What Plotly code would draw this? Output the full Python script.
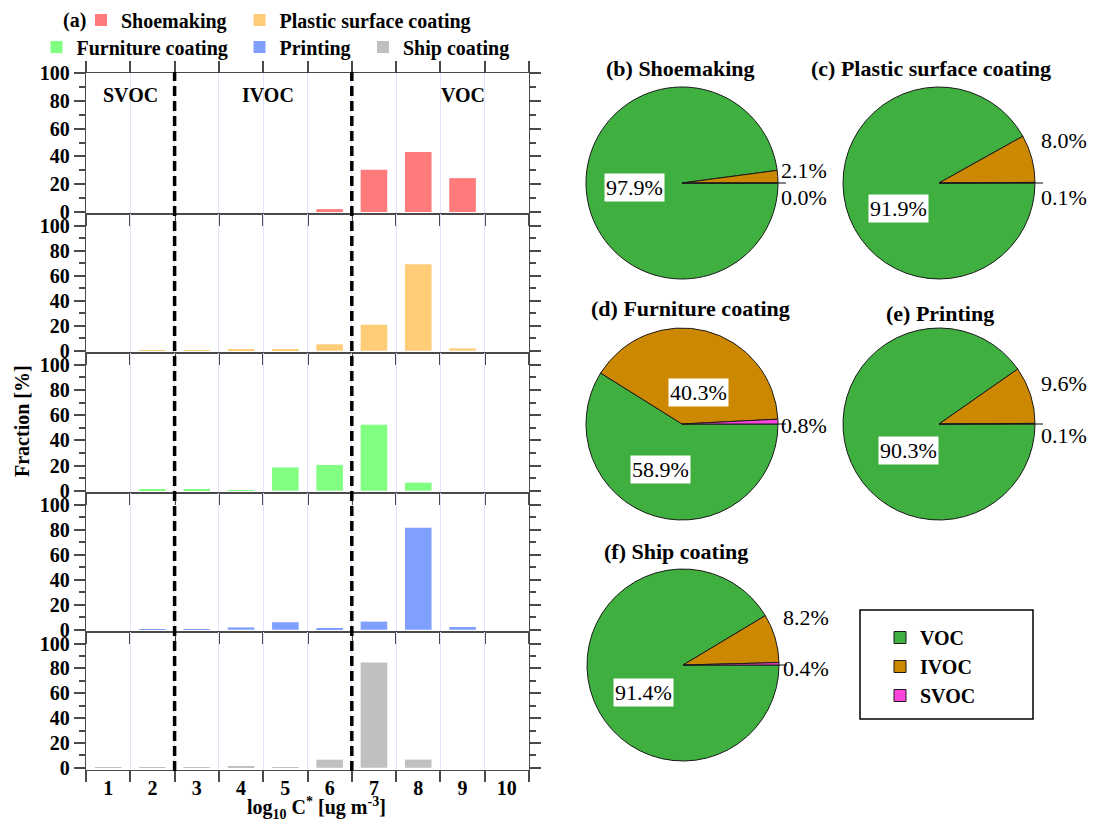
import plotly.graph_objects as go

W, H = 1104, 832
FONT = "Liberation Serif"

# ---- data -------------------------------------------------------------
log_cstar = [1, 2, 3, 4, 5, 6, 7, 8, 9, 10]
x_labels = ["1", "2", "3", "4", "5", "6", "7", "8", "9", "10"]

shoemaking = [0, 0, 0, 0, 0, 2.1, 30.4, 43.1, 24.4, 0]
plastic = [0, 0.1, 0.2, 1.3, 1.3, 5.2, 20.8, 69.2, 1.9, 0]
furniture = [0, 0.8, 0.8, 0.5, 18.5, 20.5, 52.5, 6.4, 0, 0]
printing = [0, 0.1, 0.4, 1.9, 6.0, 1.3, 6.5, 81.6, 2.2, 0]
ship = [0.2, 0.2, 0.2, 1.2, 0.3, 6.5, 84.8, 6.6, 0, 0]

sources = ["Shoemaking", "Plastic surface coating", "Furniture coating",
           "Printing", "Ship coating"]
pie_tags = ["(b)", "(c)", "(d)", "(e)", "(f)"]
classes = ["VOC", "IVOC", "SVOC"]
voc_share = [97.9, 91.9, 58.9, 90.3, 91.4]
ivoc_share = [2.1, 8.0, 40.3, 9.6, 8.2]
svoc_share = [0.0, 0.1, 0.8, 0.1, 0.4]

bar_colors = ["#ff7b7b", "#ffcc78", "#80ff80", "#80a0ff", "#c0c0c0"]
class_colors = ["#3fb03f", "#cc8800", "#ff44dd"]


def px(x):
    return x / W


def py(y):
    return 1 - y / H


def note(x, y, text, size=20, bold=True, **kw):
    """Place a text at pixel position (x, y), centred on that point."""
    fig.add_annotation(
        x=px(x), y=py(y), xref="paper", yref="paper", text=text,
        showarrow=False, xanchor=kw.pop("xanchor", "center"),
        yanchor=kw.pop("yanchor", "middle"),
        font=dict(family=FONT, size=size, color="black",
                  weight="bold" if bold else "normal"), **kw)


fig = go.Figure()

# ---- (a) stacked bar panels --------------------------------------------
panel_px = [(73, 214), (214, 353), (353, 493), (493, 632), (632, 770)]
x_left, x_right = 86, 529
series = [shoemaking, plastic, furniture, printing, ship]
# legend slot per source: (legend id, symbol centre in px)
legend_slots = [("legend", 101, 20), ("legend2", 259.5, 20),
                ("legend3", 56.5, 47), ("legend4", 259.5, 47),
                ("legend5", 383, 47)]

axis_color = "#4a4a4a"
tick_font = dict(family=FONT, size=20, color="black", weight="bold")
for i, (vals, name, col) in enumerate(zip(series, sources, bar_colors)):
    n = "" if i == 0 else str(i + 1)
    lg, lx, ly = legend_slots[i]
    fig.add_trace(go.Bar(
        x=log_cstar, y=vals, name=name, width=0.6,
        marker=dict(color=col, line=dict(width=0)),
        xaxis="x" + n, yaxis="y" + n, legend=lg, hoverinfo="y",
    ))
    top, bot = panel_px[i]
    last = i == len(series) - 1
    fig.update_layout(**{
        "xaxis" + n: dict(
            domain=[px(x_left), px(x_right)], anchor="y" + n,
            range=[0.5, 10.5], tickmode="array", tickvals=log_cstar,
            ticktext=x_labels, ticks="", showticklabels=last,
            tickfont=tick_font, showgrid=False, zeroline=False,
            showline=True, linecolor=axis_color, linewidth=1.3,
            mirror="ticks" if i == 0 else True,
            minor=dict(tickmode="array",
                       tickvals=[v - 0.5 for v in log_cstar] + [10.5],
                       ticks="outside", ticklen=11, tickwidth=1.5,
                       tickcolor=axis_color, showgrid=True,
                       gridcolor="#e2e2f8", gridwidth=1),
        ),
        "yaxis" + n: dict(
            domain=[py(bot), py(top)], anchor="x" + n,
            range=[-1.4, 100] if i == 0 else [-1.8, 109.4],
            tickmode="array", tickvals=[0, 20, 40, 60, 80, 100],
            ticks="outside", ticklen=11, tickwidth=1.5, tickcolor=axis_color,
            tickfont=tick_font, showgrid=False, zeroline=False,
            showline=True, linecolor=axis_color, linewidth=1.3,
            mirror="ticks",
            minor=dict(tickmode="array", tickvals=[10, 30, 50, 70, 90],
                       ticks="outside", ticklen=6, tickwidth=1.5,
                       tickcolor=axis_color, showgrid=False),
        ),
        lg: dict(x=px(lx - 20), y=py(ly), xanchor="left", yanchor="middle",
                 bgcolor="rgba(0,0,0,0)", borderwidth=0,
                 font=dict(family=FONT, size=20, color="black",
                           weight="bold")),
    })

# volatility-class boundaries
for xb in (2.5, 6.5):
    fig.add_shape(type="line", xref="x", yref="paper", x0=xb, x1=xb,
                  y0=py(771), y1=py(72),
                  line=dict(color="black", width=3.5, dash="10px,5px"))

for txt, xv in (("SVOC", 1.5), ("IVOC", 4.6), ("VOC", 9.0)):
    fig.add_annotation(x=xv, y=84, xref="x", yref="y", text=txt,
                       showarrow=False, xanchor="center", yanchor="middle",
                       font=dict(family=FONT, size=20, color="black",
                                 weight="bold"))

note(74, 20, "(a)")
note(22, 421, "Fraction [%]", textangle=-90)
note(316, 808, "log<sub>10</sub> C<sup>*</sup> [ug m<sup>-3</sup>]")

# ---- (b)-(f) pies ------------------------------------------------------
R = 96
pie_centres = [(682, 183), (939, 183), (682, 424), (939, 424), (683, 665)]
title_pos = [(680, 68), (931, 68), (690, 308), (940, 313), (676, 551)]
# label anchor points (px offsets from centre) for VOC, IVOC, SVOC text;
# outer labels are left-aligned at the given x
label_pos = [
    [(-47, 4), (97, -13), (97, 14)],
    [(-41, 25), (100, -43), (100, 14)],
    [(-22, 45), (16, -31), (97, 1)],
    [(-31, 26), (100, -41), (100, 11)],
    [(-40, 27), (98, -48), (98, 3)],
]
inner_labels = [[True, False, False], [True, False, False],
                [True, True, False], [True, False, False],
                [True, False, False]]

for k, (cx, cy) in enumerate(pie_centres):
    shares = [voc_share[k], ivoc_share[k], svoc_share[k]]
    fig.add_trace(go.Pie(
        labels=classes, values=shares, sort=False,
        direction="clockwise", rotation=90,
        marker=dict(colors=class_colors, line=dict(color="#1a1a1a", width=1)),
        textinfo="none", hoverinfo="label+percent",
        domain=dict(x=[px(cx - R), px(cx + R)], y=[py(cy + R), py(cy - R)]),
        showlegend=(k == 0), legend="legend6",
    ))
    tx, ty = title_pos[k]
    note(tx, ty, f"{pie_tags[k]} {sources[k]}", size=22)
    for j, v in enumerate(shares):
        dx, dy = label_pos[k][j]
        inner = inner_labels[k][j]
        note(cx + dx, cy + dy, f"{v:.1f}%", size=22, bold=False,
             xanchor="center" if inner else "left",
             bgcolor="white" if inner else "rgba(0,0,0,0)", borderpad=1)
    # short leader at the 3 o'clock edge
    fig.add_shape(type="line", xref="paper", yref="paper",
                  x0=px(cx + R), x1=px(cx + R + 8), y0=py(cy), y1=py(cy),
                  line=dict(color="#333333", width=1.2))

# legend frame for the volatility classes
fig.add_shape(type="rect", xref="paper", yref="paper",
              x0=px(860), x1=px(1033), y0=py(719), y1=py(610),
              line=dict(color="black", width=1.5), fillcolor="rgba(0,0,0,0)")

fig.update_layout(
    width=W, height=H, margin=dict(l=0, r=0, t=0, b=0),
    template="none", paper_bgcolor="white", plot_bgcolor="white",
    barmode="overlay", showlegend=True,
    legend6=dict(x=px(880), y=py(618), xanchor="left", yanchor="top",
                 bgcolor="rgba(0,0,0,0)", borderwidth=0, tracegroupgap=0,
                 font=dict(family=FONT, size=20, color="black",
                           weight="bold")),
)

fig.write_html("out.html")
